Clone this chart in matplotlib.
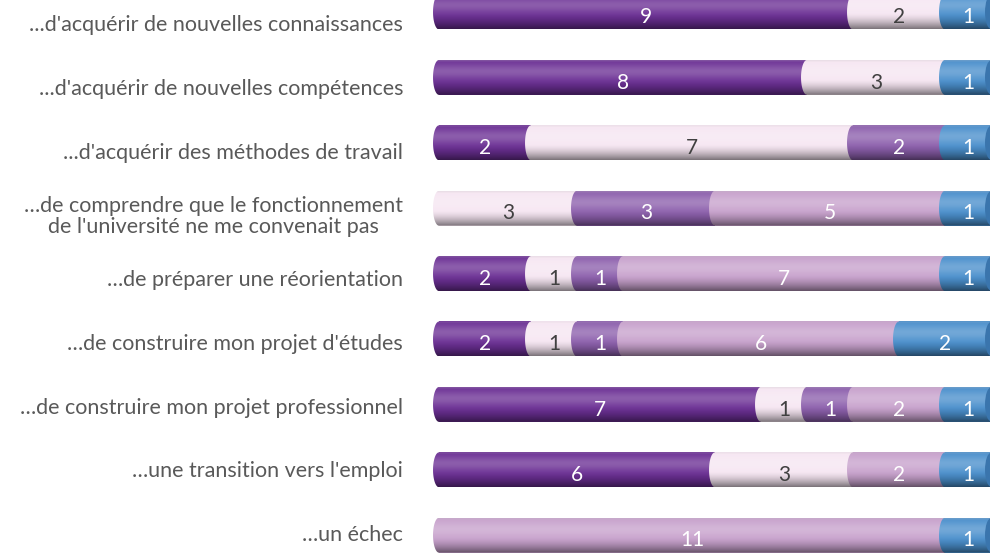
import numpy as np
import matplotlib.pyplot as plt
from matplotlib.path import Path
from matplotlib.patches import PathPatch, Ellipse
from matplotlib.colors import to_rgb

plt.rcParams['font.family'] = ['Lato', 'DejaVu Sans']

# Data (one row per answer, read top to bottom)
labels = [
    "...d'acquérir de nouvelles connaissances",
    "...d'acquérir de nouvelles compétences",
    "...d'acquérir des méthodes de travail",
    "…de comprendre que le fonctionnement\nde l'université ne me convenait pas",
    "…de préparer une réorientation",
    "…de construire mon projet d'études",
    "…de construire mon projet professionnel",
    "…une transition vers l'emploi",
    "…un échec",
]
s1 = [9, 8, 2, 0, 2, 2, 7, 6, 0]
s2 = [2, 3, 7, 3, 1, 1, 1, 3, 0]
s3 = [0, 0, 2, 3, 1, 1, 1, 0, 0]
s4 = [0, 0, 0, 5, 7, 6, 2, 2, 11]
s5 = [1, 1, 1, 1, 1, 2, 1, 1, 1]

series = [s1, s2, s3, s4, s5]
colors = ['#6b2f94', '#f6e6f2', '#8c5fac', '#c7a1cc', '#4a8fcc']
txt_colors = ['white', '#404040', 'white', 'white', 'white']

bar_h = 0.535
cap = 0.13  # half-width of the rounded cylinder end


def shade_profile(n=80):
    t = np.linspace(0, 1, n)
    light = 0.22 * np.exp(-((t - 0.32) / 0.22) ** 2)
    dark = 0.5 * np.clip((t - 0.55) / 0.45, 0, 1) ** 1.6
    top = 0.25 * np.clip((0.06 - t) / 0.06, 0, 1)
    return light, dark, top


light, dark, top = shade_profile()


def cylinder_img(col):
    c = np.array(to_rgb(col))
    rgb = c + (1 - c) * light[:, None]
    rgb = rgb * (1 - dark[:, None])
    rgb = rgb * (1 - top[:, None]) + 0.75 * top[:, None]
    return np.clip(rgb, 0, 1)[:, None, :]


fig = plt.figure(figsize=(9.9, 5.55), dpi=100)
ax = fig.add_axes([0, 0, 1, 1])
ypos = np.arange(len(labels))

left = np.zeros(len(labels))
for k, vals in enumerate(series):
    vals = np.array(vals, dtype=float)
    ax.barh(ypos, vals, left=left, height=bar_h, color=colors[k], zorder=1)
    img = cylinder_img(colors[k])
    for i in range(len(labels)):
        if vals[i] == 0:
            continue
        x0, x1 = left[i], left[i] + vals[i]
        yt, yb = ypos[i] - bar_h / 2, ypos[i] + bar_h / 2
        th = np.linspace(0, np.pi, 40)
        verts = np.vstack([[[x0, yb], [x1, yb], [x1, yt], [x0, yt]],
                           np.column_stack([x0 - cap * np.sin(th),
                                            ypos[i] - bar_h / 2 * np.cos(th)])])
        clip = PathPatch(Path(np.vstack([verts, verts[:1]]), closed=True),
                         transform=ax.transData, facecolor='none', edgecolor='none')
        ax.add_patch(clip)
        im = ax.imshow(img, extent=(x0 - cap, x1, yb, yt), aspect='auto',
                       interpolation='bilinear', zorder=2 + k * 0.01)
        im.set_clip_path(clip)
        ax.text((x0 + x1) / 2, ypos[i] + 0.08, f"{int(vals[i])}", ha='center',
                va='center', color=txt_colors[k], fontsize=15, zorder=5)
    left = left + vals

# right end face of each cylinder
for i in range(len(labels)):
    ax.add_patch(Ellipse((left[i], ypos[i]), 2 * cap, bar_h * 0.97,
                         facecolor='#3a75ad', edgecolor='none', zorder=3))

for i, lab in enumerate(labels):
    ax.text(-0.78, 0.2 + 0.975 * i, lab, ha='right', va='center',
            multialignment='center', color='#595959', fontsize=15.5,
            linespacing=1.1)

ax.set_xlim(-439 / 46.0, 551 / 46.0)
ax.set_ylim(8.303, -0.1835)
ax.axis('off')

fig.savefig('out.png', dpi=100)
